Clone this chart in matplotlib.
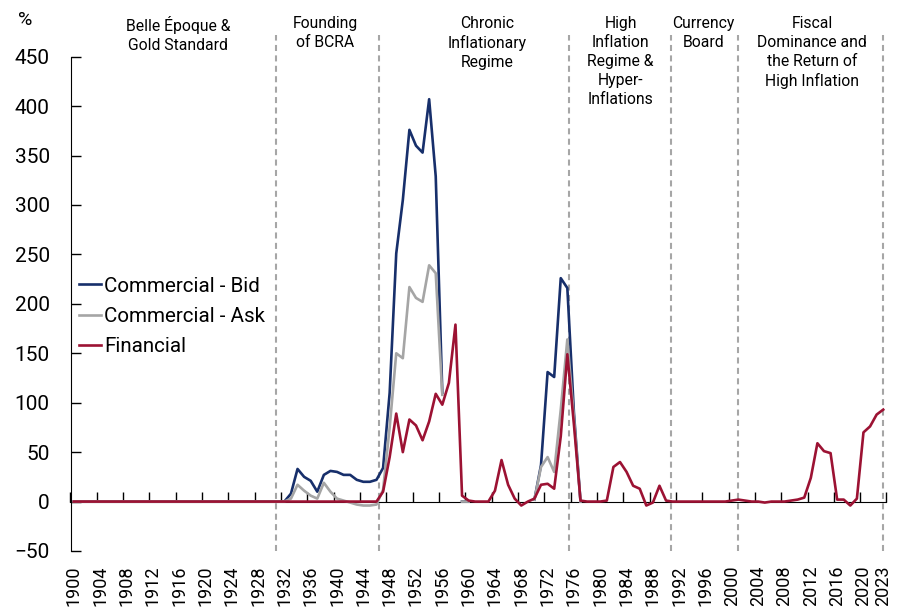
import numpy as np
import matplotlib
matplotlib.use("Agg")
import matplotlib.pyplot as plt
import matplotlib.transforms as mtransforms

plt.rcParams['font.family'] = ['Roboto', 'DejaVu Sans']

nan = np.nan

# years 1900..2023
years = np.arange(1900, 2024)

# Financial
financial = [
    0, 0, 0, 0, 0, 0, 0, 0, 0, 0,          # 1900s
    0, 0, 0, 0, 0, 0, 0, 0, 0, 0,          # 1910s
    0, 0, 0, 0, 0, 0, 0, 0, 0, 0,          # 1920s
    0, 0, 0, 0, 0, 0, 0, 0, 0, 0,          # 1930s
    0, 0, 0, 0, 0, 0, 0, 10, 45, 89,       # 1940s
    50, 83, 77, 62, 81, 109, 98, 120, 179, 6,   # 1950s
    1, 0, 0, 0, 11, 42, 17, 3, -4, 0,      # 1960s
    3, 17, 18, 13, 66, 149, 78, 1, 0, 0,   # 1970s
    0, 1, 35, 40, 30, 16, 13, -4, -1, 16,  # 1980s
    1, 0, 0, 0, 0, 0, 0, 0, 0, 0,          # 1990s
    1, 2, 1, 0, 0, -1, 0, 0, 0, 1,         # 2000s
    2, 4, 24, 59, 51, 49, 2, 2, -4, 3,     # 2010s
    70, 76, 88, 93,                        # 2020-2023
]

# Commercial - Bid
comm_bid = [
    0, 0, 0, 0, 0, 0, 0, 0, 0, 0,
    0, 0, 0, 0, 0, 0, 0, 0, 0, 0,
    0, 0, 0, 0, 0, 0, 0, 0, 0, 0,
    0, 0, 0, 8, 33, 25, 21, 10, 27, 31,
    30, 27, 27, 22, 20, 20, 22, 34, 110, 251,
    305, 376, 360, 353, 407, 329, 110, nan, nan, 0,
    0, nan, nan, nan, nan, nan, nan, nan, nan, nan,
    2, 37, 131, 126, 226, 216, 90, 0, nan, nan,
    nan, nan, nan, nan, nan, nan, nan, nan, nan, nan,
    nan, nan, nan, nan, nan, nan, nan, nan, nan, nan,
    nan, nan, nan, nan, nan, nan, nan, nan, nan, nan,
    nan, nan, nan, nan, nan, nan, nan, nan, nan, nan,
    nan, nan, nan, nan,
]

# Commercial - Ask
comm_ask = [
    0, 0, 0, 0, 0, 0, 0, 0, 0, 0,
    0, 0, 0, 0, 0, 0, 0, 0, 0, 0,
    0, 0, 0, 0, 0, 0, 0, 0, 0, 0,
    0, 0, 0, 3, 17, 11, 6, 3, 19, 10,
    3, 1, -1, -3, -4, -4, -3, 12, 75, 150,
    145, 217, 206, 202, 239, 231, 108, nan, nan, 0,
    0, nan, nan, nan, nan, nan, nan, nan, nan, nan,
    2, 35, 45, 30, 93, 164, 85, 0, nan, nan,
    nan, nan, nan, nan, nan, nan, nan, nan, nan, nan,
    nan, nan, nan, nan, nan, nan, nan, nan, nan, nan,
    nan, nan, nan, nan, nan, nan, nan, nan, nan, nan,
    nan, nan, nan, nan, nan, nan, nan, nan, nan, nan,
    nan, nan, nan, nan,
]

# period boundaries and labels
period_lines = [1930.8, 1946.4, 1975.2, 1990.8, 2000.9, 2023]
period_labels = ["Belle Époque &\nGold Standard", "Founding\nof BCRA",
                 "Chronic\nInflationary\nRegime",
                 "High\nInflation\nRegime &\nHyper-\nInflations",
                 "Currency\nBoard",
                 "Fiscal\nDominance and\nthe Return of\nHigh Inflation"]
label_pos = [1915.8, 1938.2, 1962.8, 1983.1, 1995.7, 2012.2]

tick_years = list(range(1900, 2021, 4)) + [2023]

fig = plt.figure(figsize=(8.97, 6.16), dpi=100)
ax = fig.add_axes([70.5/897, 65/616, 816/897, 494.3/616])

ax.vlines(period_lines, -50, 472, colors='#a6a6a6', linewidth=1.5,
          linestyles=(0, (2.9, 2.1)), clip_on=False, zorder=1)

ax.plot(years, comm_bid, color='#172f6b', lw=1.9, label='Commercial - Bid', zorder=3)
ax.plot(years, comm_ask, color='#a5a5a5', lw=1.9, label='Commercial - Ask', zorder=4)
ax.plot(years, financial, color='#9c1233', lw=1.9, label='Financial', zorder=5)

ax.set_xlim(1899.5, 2023.5)
ax.set_ylim(-50, 450)
ax.set_yticks(range(-50, 451, 50))

ax.spines['top'].set_visible(False)
ax.spines['right'].set_visible(False)
ax.spines['bottom'].set_position(('data', 0))
ax.spines['bottom'].set_zorder(2)

ax.tick_params(axis='y', direction='in', length=7, width=1, labelsize=15, pad=15)
ax.set_xticks(tick_years)
ax.set_xticklabels([str(y) for y in tick_years], rotation=90)
ax.tick_params(axis='x', which='major', length=0, labelsize=13, pad=46)
ax.set_xticks([y - 0.5 for y in range(1900, 2021, 4)] + [2023.5], minor=True)
ax.tick_params(axis='x', which='minor', direction='in', length=7, width=1)

trans = mtransforms.blended_transform_factory(ax.transData, ax.transAxes)
for xp, lab in zip(label_pos, period_labels):
    ax.text(xp, 1.082, lab, transform=trans, ha='center', va='top',
            fontsize=11.3, linespacing=1.33)

fig.text(25/897, 1 - 20/616, '%', ha='center', va='center', fontsize=14)

ax.legend(loc='upper left', bbox_to_anchor=(0.011, 0.555), frameon=False,
          fontsize=14.8, handlelength=1.05, handletextpad=0.15, labelspacing=0.55,
          borderaxespad=0, borderpad=0)

fig.savefig('out.png', dpi=100)
